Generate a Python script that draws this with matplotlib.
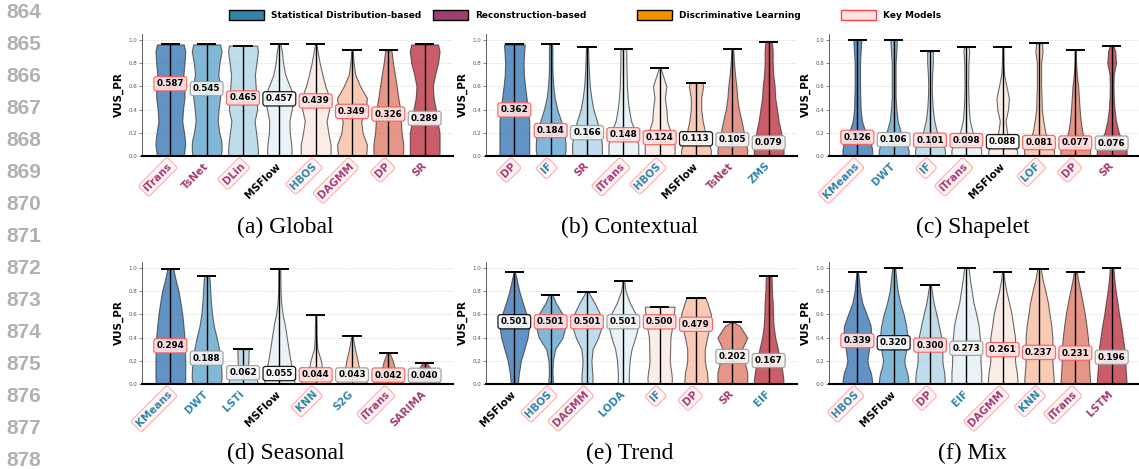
import numpy as np
import matplotlib.pyplot as plt
from matplotlib.patches import Rectangle

W, H = 1139, 469

# heights at which the violin half-widths are listed (relative widths, cut at each top)
levels = [0, 0.05, 0.1, 0.15, 0.2, 0.3, 0.4, 0.5, 0.6, 0.7, 0.8, 0.9, 1.0]

statistical = ['HBOS', 'IF', 'KMeans', 'DWT', 'LOF', 'LSTi', 'KNN', 'S2G', 'LODA', 'EIF', 'ZMS']
reconstruction = ['iTrans', 'TsNet', 'DLin', 'DAGMM', 'DP', 'SR', 'SARIMA', 'LSTM']

# (a) Global
global_models = ['iTrans', 'TsNet', 'DLin', 'MSFlow', 'HBOS', 'DAGMM', 'DP', 'SR']
global_scores = [0.587, 0.545, 0.465, 0.457, 0.439, 0.349, 0.326, 0.289]
global_tops = [0.96, 0.96, 0.95, 0.96, 0.96, 0.91, 0.91, 0.96]
global_keys = [1, 0, 1, 0, 1, 1, 1, 0]
global_widths = [
    [0.9, 0.95, 1.0, 0.97, 0.92, 0.8, 0.85, 0.95, 0.95, 0.88, 0.95, 1.0, 0.9],
    [0.95, 1.0, 1.0, 0.95, 0.85, 0.74, 0.8, 0.9, 0.92, 0.78, 0.86, 1.0, 0.9],
    [1.0, 1.0, 0.97, 0.93, 0.88, 0.78, 0.95, 0.9, 0.85, 0.8, 0.9, 1.0, 0.95],
    [0.8, 0.82, 0.8, 0.75, 0.7, 0.68, 0.82, 1.0, 0.7, 0.4, 0.25, 0.17, 0.08],
    [1.0, 1.0, 1.0, 0.92, 0.85, 0.73, 0.9, 0.93, 0.65, 0.45, 0.27, 0.13, 0.05],
    [0.93, 0.98, 1.0, 0.85, 0.71, 0.62, 0.93, 1.0, 0.55, 0.22, 0.11, 0.05, 0.03],
    [0.98, 1.0, 1.0, 0.95, 0.89, 0.84, 0.8, 0.67, 0.56, 0.44, 0.31, 0.22, 0.2],
    [1.0, 1.0, 1.0, 1.0, 1.0, 0.85, 0.75, 0.6, 0.55, 0.7, 0.9, 1.0, 0.9],
]

# (b) Contextual
context_models = ['DP', 'IF', 'SR', 'iTrans', 'HBOS', 'MSFlow', 'TsNet', 'ZMS']
context_scores = [0.362, 0.184, 0.166, 0.148, 0.124, 0.113, 0.105, 0.079]
context_tops = [0.96, 0.96, 0.94, 0.92, 0.76, 0.63, 0.92, 0.98]
context_keys = [1, 1, 0, 1, 1, 0, 0, 0]
context_widths = [
    [1, 1, 1, 1, 1, 1, 0.92, 0.82, 0.72, 0.64, 0.62, 0.66, 0.7],
    [0.93, 1.0, 1.0, 0.97, 0.93, 0.7, 0.45, 0.27, 0.18, 0.13, 0.11, 0.12, 0.1],
    [1.0, 1.0, 1.0, 0.95, 0.9, 0.67, 0.43, 0.29, 0.19, 0.14, 0.1, 0.08, 0.05],
    [1.0, 1.0, 1.0, 0.9, 0.83, 0.52, 0.38, 0.29, 0.24, 0.22, 0.2, 0.2, 0.18],
    [1.0, 1.0, 1.0, 0.85, 0.75, 0.5, 0.45, 0.35, 0.45, 0.2, 0.05],
    [1.0, 1.0, 0.88, 0.75, 0.62, 0.45, 0.35, 0.35, 0.48, 0.42],
    [1.0, 1.0, 0.93, 0.85, 0.78, 0.62, 0.44, 0.33, 0.27, 0.18, 0.11, 0.07, 0.05],
    [1.0, 1.0, 0.93, 0.88, 0.84, 0.67, 0.56, 0.44, 0.4, 0.31, 0.27, 0.27, 0.22],
]

# (c) Shapelet
shape_models = ['KMeans', 'DWT', 'IF', 'iTrans', 'MSFlow', 'LOF', 'DP', 'SR']
shape_scores = [0.126, 0.106, 0.101, 0.098, 0.088, 0.081, 0.077, 0.076]
shape_tops = [1.0, 1.0, 0.9, 0.94, 0.94, 0.97, 0.91, 0.95]
shape_keys = [1, 0, 1, 1, 0, 1, 1, 0]
shape_widths = [
    [1.0, 1.0, 0.93, 0.75, 0.56, 0.31, 0.22, 0.2, 0.18, 0.18, 0.18, 0.22, 0.27],
    [1.0, 1.0, 0.89, 0.7, 0.49, 0.27, 0.18, 0.13, 0.13, 0.13, 0.13, 0.18, 0.22],
    [1.0, 1.0, 0.9, 0.7, 0.48, 0.29, 0.19, 0.14, 0.12, 0.14, 0.19, 0.19],
    [1.0, 1.0, 0.9, 0.65, 0.43, 0.24, 0.17, 0.14, 0.12, 0.13, 0.14, 0.19, 0.15],
    [1.0, 0.95, 0.71, 0.45, 0.3, 0.19, 0.36, 0.42, 0.25, 0.1, 0.05, 0.04, 0.03],
    [1.0, 1.0, 0.83, 0.6, 0.43, 0.29, 0.19, 0.17, 0.14, 0.14, 0.14, 0.24, 0.2],
    [1.0, 1.0, 0.83, 0.65, 0.48, 0.36, 0.29, 0.24, 0.19, 0.1, 0.05, 0.04, 0.03],
    [1.0, 1.0, 0.83, 0.65, 0.48, 0.29, 0.19, 0.14, 0.12, 0.14, 0.29, 0.24, 0.12],
]

# (d) Seasonal
season_models = ['KMeans', 'DWT', 'LSTi', 'MSFlow', 'KNN', 'S2G', 'iTrans', 'SARIMA']
season_scores = [0.294, 0.188, 0.062, 0.055, 0.044, 0.043, 0.042, 0.040]
season_tops = [0.99, 0.93, 0.30, 0.99, 0.59, 0.41, 0.27, 0.18]
season_keys = [1, 0, 0, 0, 1, 0, 1, 0]
season_widths = [
    [0.98, 1.0, 1.0, 1.0, 1.0, 0.98, 0.95, 0.88, 0.8, 0.68, 0.55, 0.35, 0.2],
    [0.95, 1.0, 1.0, 0.97, 0.95, 0.83, 0.67, 0.48, 0.36, 0.29, 0.24, 0.2, 0.15],
    [1.0, 0.9, 0.45, 0.33, 0.36, 0.38],
    [1.0, 1.0, 0.9, 0.82, 0.75, 0.62, 0.5, 0.38, 0.22, 0.12, 0.08, 0.07, 0.06],
    [1.0, 0.9, 0.55, 0.42, 0.35, 0.12, 0.06, 0.05, 0.03],
    [1.0, 0.95, 0.55, 0.45, 0.38, 0.2, 0.06, 0.04],
    [1.0, 0.95, 0.5, 0.4, 0.3, 0.08],
    [1.0, 0.95, 0.55, 0.3, 0.15],
]

# (e) Trend
trend_models = ['MSFlow', 'HBOS', 'DAGMM', 'LODA', 'IF', 'DP', 'SR', 'EIF']
trend_scores = [0.501, 0.501, 0.501, 0.501, 0.500, 0.479, 0.202, 0.167]
trend_tops = [0.96, 0.77, 0.79, 0.89, 0.665, 0.74, 0.53, 0.93]
trend_keys = [0, 1, 1, 0, 1, 1, 0, 0]
trend_widths = [
    [0.24, 0.27, 0.31, 0.38, 0.44, 0.67, 0.89, 1.0, 0.82, 0.56, 0.33, 0.16, 0.05],
    [0.17, 0.14, 0.12, 0.13, 0.15, 0.3, 0.8, 1.0, 0.8, 0.34, 0.12],
    [0.37, 0.37, 0.35, 0.32, 0.3, 0.38, 0.75, 1.0, 0.88, 0.5, 0.1],
    [0.37, 0.37, 0.37, 0.4, 0.42, 0.55, 0.8, 1.0, 0.83, 0.43, 0.15, 0.05],
    [0.8, 0.82, 0.78, 0.72, 0.68, 0.7, 0.72, 0.85, 0.95, 1.0],
    [0.8, 0.77, 0.74, 0.65, 0.59, 0.59, 0.74, 0.94, 1.0, 0.76, 0.65],
    [1.0, 1.0, 1.0, 0.9, 0.82, 0.65, 1.0, 0.5, 0.12],
    [1.0, 0.98, 0.93, 0.86, 0.78, 0.62, 0.44, 0.33, 0.29, 0.27, 0.22, 0.2, 0.18],
]

# (f) Mix
mix_models = ['HBOS', 'MSFlow', 'DP', 'EIF', 'DAGMM', 'KNN', 'iTrans', 'LSTM']
mix_scores = [0.339, 0.320, 0.300, 0.273, 0.261, 0.237, 0.231, 0.196]
mix_tops = [0.96, 1.0, 0.85, 1.0, 0.96, 0.99, 0.96, 1.0]
mix_keys = [1, 0, 1, 0, 1, 1, 1, 0]
mix_widths = [
    [1.0, 0.97, 0.9, 0.75, 0.67, 0.78, 0.93, 0.9, 0.62, 0.33, 0.18, 0.11, 0.05],
    [1.0, 0.97, 0.9, 0.78, 0.71, 0.84, 0.93, 0.84, 0.67, 0.44, 0.27, 0.18, 0.1],
    [1.0, 0.98, 0.95, 0.88, 0.83, 0.83, 0.76, 0.6, 0.43, 0.24, 0.12, 0.05],
    [1.0, 1.0, 1.0, 0.97, 0.95, 0.95, 0.9, 0.83, 0.67, 0.48, 0.36, 0.24, 0.15],
    [1.0, 0.98, 0.95, 0.88, 0.83, 0.83, 0.83, 0.71, 0.6, 0.43, 0.24, 0.1, 0.05],
    [1.0, 0.98, 0.95, 0.92, 0.9, 0.9, 0.9, 0.83, 0.71, 0.6, 0.43, 0.24, 0.12],
    [1.0, 0.98, 0.95, 0.93, 0.91, 0.91, 0.84, 0.75, 0.64, 0.5, 0.34, 0.18, 0.1],
    [1.0, 0.98, 0.95, 0.93, 0.91, 0.86, 0.75, 0.64, 0.5, 0.39, 0.27, 0.18, 0.12],
]

captions = ['(a) Global', '(b) Contextual', '(c) Shapelet', '(d) Seasonal', '(e) Trend', '(f) Mix']

STAT_C, RECON_C, DISC_C = '#2E86AB', '#A23B72', '#F18F01'
KEY_FC, KEY_EC = '#ffe4e4', '#ff5a5a'

palette = plt.get_cmap('RdBu_r')(np.linspace(0, 1, 10)[1:-1])


def label_color(name):
    if name in statistical:
        return STAT_C
    if name in reconstruction:
        return RECON_C
    return 'black'


def draw_panel(ax, models, scores, tops, keys, widths):
    pos = np.arange(len(models))
    stats = []
    for s, top, w in zip(scores, tops, widths):
        coords = [l for l in levels if l < top] + [top]
        stats.append(dict(coords=np.array(coords), vals=np.array(w), mean=s,
                          median=s, min=0.0, max=top))
    parts = ax.violin(stats, positions=pos, widths=0.82,
                      showextrema=True, showmedians=True)
    for body, c in zip(parts['bodies'], palette):
        body.set_facecolor(c[:3])
        body.set_edgecolor('#333333')
        body.set_alpha(0.72)
        body.set_linewidth(0.8)
    parts['cbars'].set_color('black')
    parts['cbars'].set_linewidth(1.0)
    parts['cmaxes'].set_color('black')
    parts['cmaxes'].set_linewidth(1.4)
    parts['cmaxes'].set_segments([[[p - 0.27, t], [p + 0.27, t]] for p, t in zip(pos, tops)])
    parts['cmins'].set_linewidth(0)
    parts['cmedians'].set_color((0.1, 0.1, 0.1, 0.8))
    parts['cmedians'].set_linewidth(0.8)

    for p, s, name, k in zip(pos, scores, models, keys):
        if k:
            fc, ec = KEY_FC, KEY_EC
        elif name == 'MSFlow':
            fc, ec = 'white', 'black'
        else:
            fc, ec = '#f7f7f7', '#9a9a9a'
        ax.text(p, s + 0.035, f'{s:.3f}', ha='center', va='center', fontsize=6.3,
                fontweight='bold', zorder=5,
                bbox=dict(boxstyle='round,pad=0.3', fc=fc, ec=ec, lw=0.9, alpha=0.9))

    ax.set_xlim(-0.78, 7.78)
    ax.set_ylim(0, 1.05)
    ax.set_xticks(pos)
    ax.set_xticklabels(models, rotation=45, ha='right', va='center',
                       rotation_mode='anchor', fontsize=7.5, fontweight='bold')
    for lab, name, k in zip(ax.get_xticklabels(), models, keys):
        lab.set_color(label_color(name))
        if k:
            lab.set_bbox(dict(boxstyle='round,pad=0.25', fc='#fff0f0', ec='#ff9a9a',
                              lw=0.8, alpha=0.8))
    ax.tick_params(axis='x', length=0, pad=6)
    ax.set_yticks([0, 0.2, 0.4, 0.6, 0.8, 1.0])
    ax.tick_params(axis='y', labelsize=4, colors='#555555', length=2, width=0.5, pad=1.5)
    ax.set_ylabel('VUS_PR', fontsize=7.5, fontweight='bold', labelpad=3)
    ax.grid(axis='y', linestyle='--', linewidth=0.5, color='#cccccc', alpha=0.7)
    ax.set_axisbelow(True)
    for side in ['top', 'right']:
        ax.spines[side].set_visible(False)
    ax.spines['left'].set_linewidth(0.6)
    ax.spines['left'].set_color('#444444')
    ax.spines['bottom'].set_linewidth(1.5)


fig = plt.figure(figsize=(W / 100, H / 100), dpi=100)

panel_data = [
    (global_models, global_scores, global_tops, global_keys, global_widths),
    (context_models, context_scores, context_tops, context_keys, context_widths),
    (shape_models, shape_scores, shape_tops, shape_keys, shape_widths),
    (season_models, season_scores, season_tops, season_keys, season_widths),
    (trend_models, trend_scores, trend_tops, trend_keys, trend_widths),
    (mix_models, mix_scores, mix_tops, mix_keys, mix_widths),
]
lefts = [142, 486, 829]
bottoms = [156, 384]
ax_w, ax_h = 311, 122
caption_y = [227, 453]

for i, data in enumerate(panel_data):
    r, c = divmod(i, 3)
    ax = fig.add_axes([lefts[c] / W, 1 - bottoms[r] / H, ax_w / W, ax_h / H])
    draw_panel(ax, *data)
    fig.text((lefts[c] + ax_w / 2 - 12) / W, 1 - caption_y[r] / H, captions[i],
             ha='center', va='center', family='Liberation Serif', fontsize=17)

# legend row across the top
legend_items = [('Statistical Distribution-based', STAT_C, 'black'),
                ('Reconstruction-based', RECON_C, 'black'),
                ('Discriminative Learning', DISC_C, 'black'),
                ('Key Models', KEY_FC, '#ff4040')]
for j, (txt, fc, ec) in enumerate(legend_items):
    x0 = 229 + 204 * j
    fig.patches.append(Rectangle((x0 / W, 1 - 20 / H), 35 / W, 10 / H, fc=fc, ec=ec,
                                 lw=1.0, transform=fig.transFigure, figure=fig))
    fig.text((x0 + 42) / W, 1 - 15 / H, txt, ha='left', va='center', fontsize=6.5,
             fontweight='bold')

# line numbers down the left margin
for i in range(15):
    fig.text(41 / W, 1 - (13 + i * 31.93) / H, str(864 + i), ha='right', va='center',
             fontsize=15, color='#b0b0b0', family='Liberation Sans', fontweight='bold')

fig.savefig('out.png', dpi=100)
